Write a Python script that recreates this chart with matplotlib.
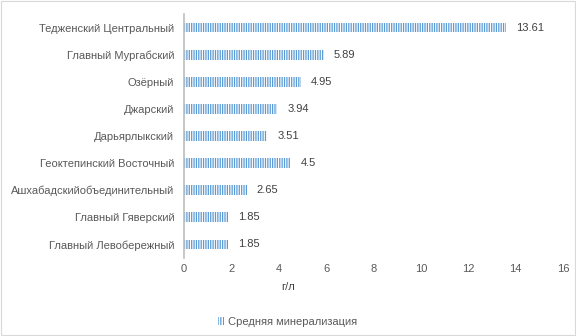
import matplotlib
matplotlib.use("Agg")
import matplotlib.pyplot as plt
from matplotlib.patches import Rectangle, Patch

categories = ["Тедженский Центральный", "Главный Мургабский", "Озёрный", "Джарский",
              "Дарьярлыкский", "Геоктепинский Восточный", "Ашхабадскийобъединительный",
              "Главный Гяверский", "Главный Левобережный"]
values = [13.61, 5.89, 4.95, 3.94, 3.51, 4.5, 2.65, 1.85, 1.85]
value_labels = ["13.61", "5.89", "4.95", "3.94", "3.51", "4.5", "2.65", "1.85", "1.85"]
xticks = [0, 2, 4, 6, 8, 10, 12, 14, 16]

plt.rcParams['font.family'] = ['Liberation Sans', 'DejaVu Sans']
plt.rcParams['hatch.linewidth'] = 0.9
plt.rcParams['hatch.color'] = '#5B9BD5'
txt = '#595959'
blue = '#5B9BD5'

fig = plt.figure(figsize=(5.76, 3.36), dpi=100)
ax = fig.add_axes([184 / 576, 78 / 336, (563 - 184) / 576, (258 - 14) / 336])
ypos = list(range(len(categories)))
ax.barh(ypos, values, height=0.36, color='white', edgecolor=blue, linewidth=0,
        hatch='|||||||')
ax.set_ylim(len(categories) - 0.5, -0.5)
ax.set_xlim(0, 16)
for y, v, lab in zip(ypos, values, value_labels):
    ax.text(v + 0.42, y, lab, va='center', ha='left', fontsize=8, color='#404040')
ax.set_yticks(ypos)
ax.set_yticklabels(categories, fontsize=8, color=txt)
ax.set_xticks(xticks)
ax.set_xticklabels([str(t) for t in xticks], fontsize=8, color=txt)
ax.tick_params(length=0, axis='both')
ax.tick_params(axis='x', pad=4)
ax.tick_params(axis='y', pad=7)
for s in ['top', 'right', 'bottom']:
    ax.spines[s].set_visible(False)
ax.spines['left'].set_color('#BFBFBF')
ax.spines['left'].set_linewidth(1.2)

fig.text(288 / 576, 1 - 287 / 336, "г/л", fontsize=8, color='#404040', ha='center', va='center')
leg = fig.legend(handles=[Patch(facecolor='white', edgecolor=blue, linewidth=0, hatch='||||||')],
                 labels=["Средняя минерализация"], loc='center', bbox_to_anchor=(288 / 576, 1 - 322 / 336),
                 frameon=False, fontsize=8, handlelength=0.5, handleheight=0.8, handletextpad=0.4)
for t in leg.get_texts():
    t.set_color(txt)

fig.patches.append(Rectangle((0.002, 0.002), 0.996, 0.996, transform=fig.transFigure,
                             fill=False, edgecolor='#D9D9D9', linewidth=0.8))
fig.savefig("out.png", dpi=100)
